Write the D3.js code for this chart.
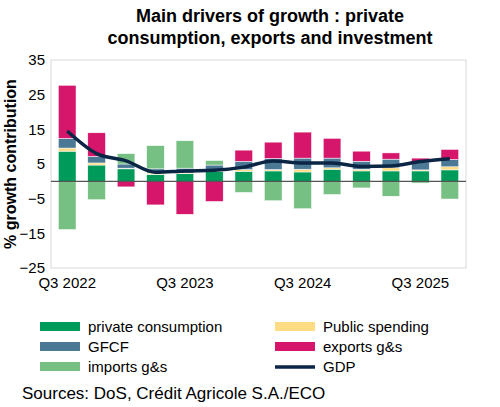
<!DOCTYPE html>
<html><head><meta charset="utf-8">
<script src="https://cdn.jsdelivr.net/npm/d3@7"></script>
<style>body{margin:0;font-family:Arial,"Liberation Sans",sans-serif;background:#fff}</style>
</head><body>
<svg id="c" width="500" height="407"></svg>
<script>
const quarters = ["Q3 2022","Q4 2022","Q1 2023","Q2 2023","Q3 2023","Q4 2023","Q1 2024","Q2 2024","Q3 2024","Q4 2024","Q1 2025","Q2 2025","Q3 2025","Q4 2025"];
const privCons = [8.7,4.7,3.6,2.0,2.2,2.8,2.9,3.0,2.7,3.5,3.0,3.0,3.0,3.3];
const publicSp = [0.9,0.6,0.2,0.4,0.2,0.2,0.5,0.4,0.8,0.4,0.5,0.9,0.3,0.9];
const gfcf = [2.8,1.9,1.2,1.2,1.4,1.7,2.4,3.2,3.2,2.8,2.3,2.5,2.3,2.1];
const exportsGs = [15.3,6.8,-1.6,-6.8,-9.5,-5.8,3.2,4.7,7.5,5.7,2.9,1.8,1.1,2.9];
const importsGs = [-13.9,-5.3,3.0,6.7,7.9,1.3,-3.2,-5.6,-7.9,-3.8,-1.9,-4.3,-0.5,-5.1];
const gdp = [14.5,8.0,5.9,2.6,3.0,3.2,4.1,5.9,5.3,5.3,4.3,4.4,5.7,6.5];
const yTicks = [35,25,15,5,-5,-15,-25];
const tickLabels = ["Q3 2022","Q3 2023","Q3 2024","Q3 2025"];

const series = [
  {name:"private consumption", vals:privCons, color:"#009a5a"},
  {name:"Public spending", vals:publicSp, color:"#fddc84"},
  {name:"GFCF", vals:gfcf, color:"#4a7895"},
  {name:"exports g&s", vals:exportsGs, color:"#d5166a"},
  {name:"imports g&s", vals:importsGs, color:"#77c083"}
];

const svg = d3.select("#c");
const m = {l:51, r:466, t:60, b:268};
const x = d3.scaleBand().domain(quarters).range([m.l, m.r]).paddingInner(0.4).paddingOuter(0.25);
const y = d3.scaleLinear().domain([-25,35]).range([m.b, m.t]);

svg.append("text").attr("x",270).attr("y",22).attr("text-anchor","middle")
  .attr("font-size",18).attr("font-weight","bold").text("Main drivers of growth : private");
svg.append("text").attr("x",270).attr("y",44).attr("text-anchor","middle")
  .attr("font-size",18).attr("font-weight","bold").text("consumption, exports and investment");

svg.append("rect").attr("x",m.l).attr("y",m.t).attr("width",m.r-m.l).attr("height",m.b-m.t)
  .attr("fill","none").attr("stroke","#d9d9d9");

// stacked bars (positive up, negative down)
quarters.forEach((q,i)=>{
  let pos=0, neg=0;
  series.forEach(s=>{
    const v=s.vals[i];
    let y0,y1;
    if(v>=0){y0=pos;y1=pos+v;pos=y1;} else {y0=neg;y1=neg+v;neg=y1;}
    svg.append("rect").attr("x",x(q)).attr("width",x.bandwidth())
      .attr("y",y(Math.max(y0,y1))).attr("height",Math.abs(y(y0)-y(y1)))
      .attr("fill",s.color).attr("stroke","#fff").attr("stroke-width",0.5);
  });
});

svg.append("line").attr("x1",m.l).attr("x2",m.r).attr("y1",y(0)).attr("y2",y(0))
  .attr("stroke","#555").attr("stroke-width",1.2);

const line = d3.line().x((d,i)=>x(quarters[i])+x.bandwidth()/2).y(d=>y(d)).curve(d3.curveMonotoneX);
svg.append("path").datum(gdp).attr("d",line).attr("fill","none")
  .attr("stroke","#0b2545").attr("stroke-width",3.5);

const ya = svg.append("g").attr("transform",`translate(${m.l},0)`)
  .call(d3.axisLeft(y).tickValues(yTicks).tickSize(0).tickPadding(6));
ya.select(".domain").remove();
ya.selectAll("text").attr("font-size",15).attr("fill","#000").attr("font-family","Arial,Liberation Sans");

const xa = svg.append("g").attr("transform",`translate(0,${m.b})`)
  .call(d3.axisBottom(x).tickValues(tickLabels).tickSize(0).tickPadding(9));
xa.select(".domain").remove();
xa.selectAll("text").attr("font-size",15).attr("fill","#000").attr("font-family","Arial,Liberation Sans");

svg.append("text").attr("transform","translate(16,164) rotate(-90)").attr("text-anchor","middle")
  .attr("font-size",16).attr("font-weight","bold").text("% growth contribution");

const legend = [
  {name:"private consumption", color:"#009a5a", type:"rect"},
  {name:"Public spending", color:"#fddc84", type:"rect"},
  {name:"GFCF", color:"#4a7895", type:"rect"},
  {name:"exports g&s", color:"#d5166a", type:"rect"},
  {name:"imports g&s", color:"#77c083", type:"rect"},
  {name:"GDP", color:"#0b2545", type:"line"}
];
legend.forEach((d,i)=>{
  const lx = i%2===0 ? 40 : 275, ly = 327 + Math.floor(i/2)*20;
  if(d.type==="rect") svg.append("rect").attr("x",lx).attr("y",ly-5).attr("width",40).attr("height",9).attr("fill",d.color);
  else svg.append("line").attr("x1",lx).attr("x2",lx+40).attr("y1",ly).attr("y2",ly).attr("stroke",d.color).attr("stroke-width",3.5);
  svg.append("text").attr("x",lx+48).attr("y",ly+5).attr("font-size",15).text(d.name);
});

svg.append("text").attr("x",22).attr("y",399).attr("font-size",17).text("Sources: DoS, Crédit Agricole S.A./ECO");
</script>
</body></html>
